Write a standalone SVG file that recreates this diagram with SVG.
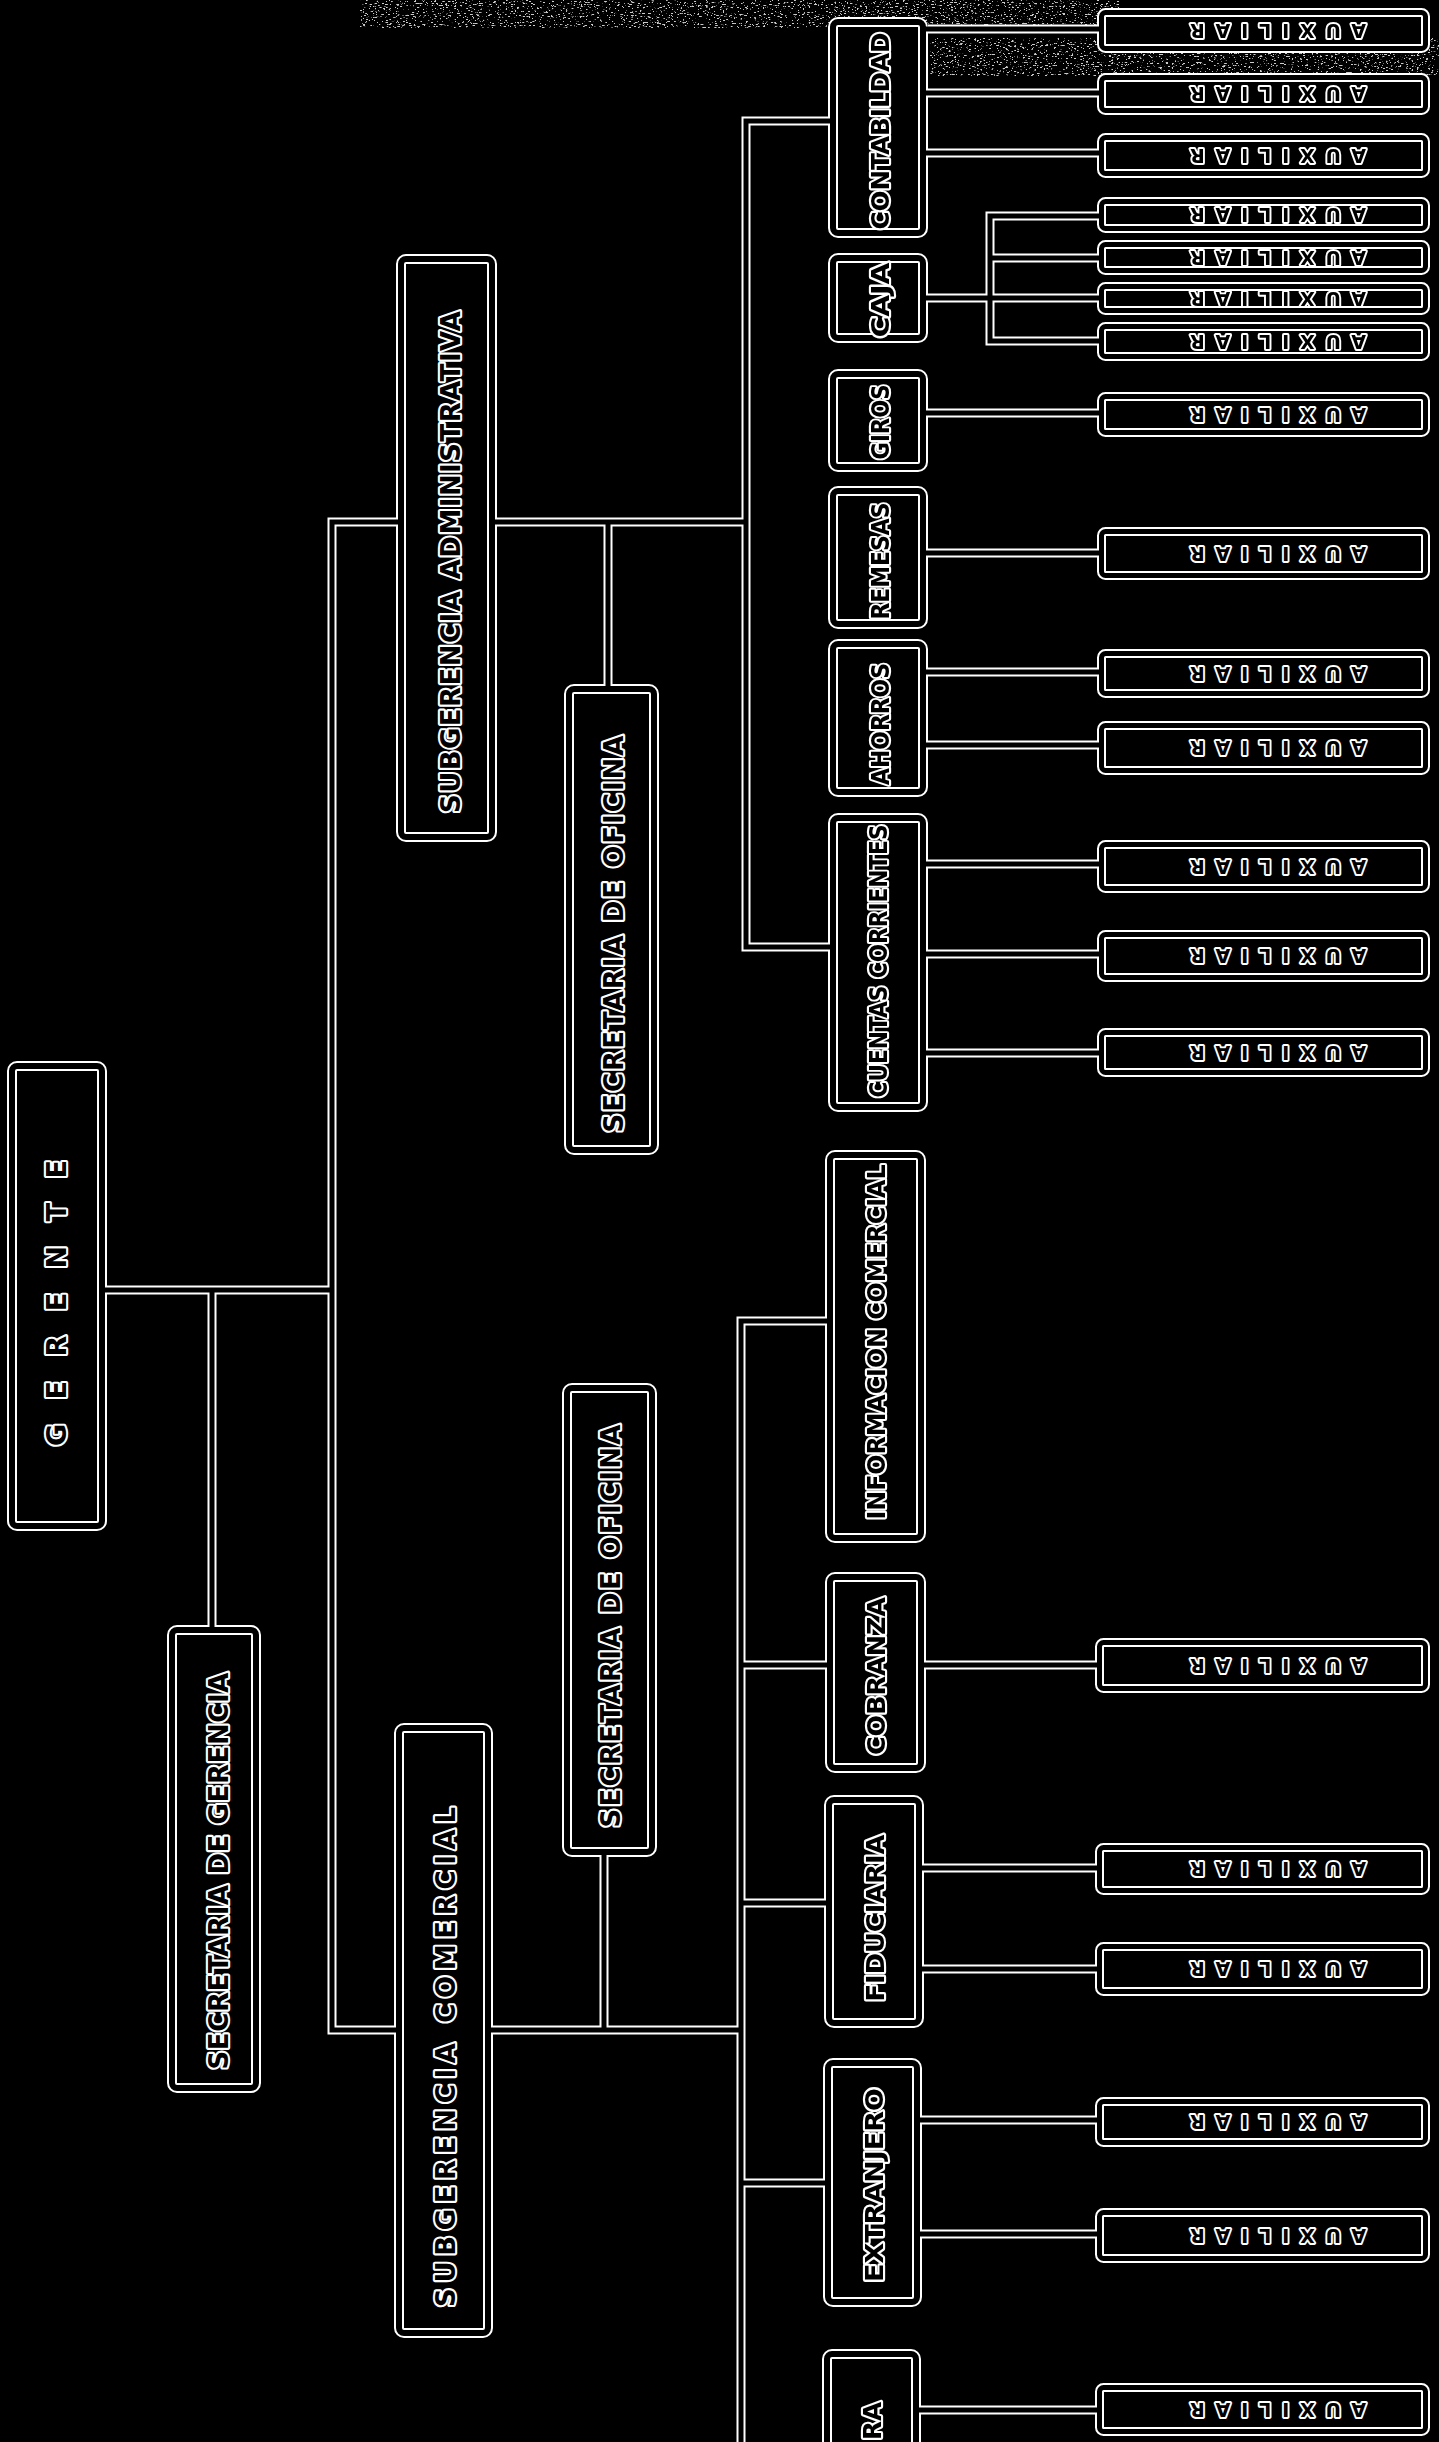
<svg xmlns="http://www.w3.org/2000/svg" width="1439" height="2442" viewBox="0 0 1439 2442">
<style>
.bo{fill:#000;stroke:#fff;stroke-width:10}
.bi{fill:none;stroke:#000;stroke-width:6}
.ao{fill:#000;stroke:#fff;stroke-width:9}
.ai{fill:none;stroke:#000;stroke-width:5}
.cw{fill:none;stroke:#fff;stroke-width:9;stroke-linejoin:miter;stroke-linecap:butt}
.ck{fill:none;stroke:#000;stroke-width:5;stroke-linejoin:miter;stroke-linecap:butt}
.t{font-family:"DejaVu Sans","Liberation Sans",sans-serif;font-weight:bold;fill:#000;stroke:#fff;stroke-width:4.2;paint-order:stroke fill;stroke-linejoin:round}
.d{font-size:24px}
.b{font-size:26px}
.x{font-size:19px;stroke-width:3.8}
</style>
<defs>
<filter id="spk" x="0" y="0" width="100%" height="100%">
<feTurbulence type="fractalNoise" baseFrequency="0.35 0.9" numOctaves="3" seed="7"/>
<feColorMatrix type="matrix" values="0 0 0 0 1 0 0 0 0 1 0 0 0 0 1 14 0 0 0 -8.6"/>
</filter>
</defs>
<rect x="0" y="0" width="1439" height="2442" fill="#000"/>
<g id="scan-noise" opacity="0.8">
<rect x="360" y="0" width="760" height="28" filter="url(#spk)"/>
<rect x="930" y="38" width="509" height="38" filter="url(#spk)"/>
</g>

<g id="n-gerencia"><rect class="bo" x="12" y="1066" width="90" height="460" rx="5"/><rect class="bi" x="12" y="1066" width="90" height="460" rx="5"/>
<text class="t" font-size="27" transform="translate(56,1446) rotate(-90)" dy="0.36em" textLength="286">GERENTE</text></g>
<g id="n-sec-gerencia"><rect class="bo" x="172" y="1630" width="84" height="458" rx="5"/><rect class="bi" x="172" y="1630" width="84" height="458" rx="5"/>
<text class="t b" transform="translate(219,1871) rotate(-90)" text-anchor="middle" dy="0.36em" textLength="397">SECRETARIA DE GERENCIA</text></g>
<g id="n-subg-admin"><rect class="bo" x="401" y="259" width="91" height="578" rx="5"/><rect class="bi" x="401" y="259" width="91" height="578" rx="5"/>
<text class="t b" transform="translate(451,562) rotate(-90)" text-anchor="middle" dy="0.36em" textLength="502">SUBGERENCIA  ADMINISTRATIVA</text></g>
<g id="n-sec-oficina-1"><rect class="bo" x="569" y="689" width="85" height="461" rx="5"/><rect class="bi" x="569" y="689" width="85" height="461" rx="5"/>
<text class="t b" transform="translate(614,934) rotate(-90)" text-anchor="middle" dy="0.36em" textLength="397">SECRETARIA DE OFICINA</text></g>
<g id="n-subg-comercial"><rect class="bo" x="399" y="1728" width="89" height="605" rx="5"/><rect class="bi" x="399" y="1728" width="89" height="605" rx="5"/>
<text class="t b" transform="translate(446,2057) rotate(-90)" text-anchor="middle" dy="0.36em" textLength="500">SUBGERENCIA   COMERCIAL</text></g>
<g id="n-sec-oficina-2"><rect class="bo" x="567" y="1388" width="85" height="464" rx="5"/><rect class="bi" x="567" y="1388" width="85" height="464" rx="5"/>
<text class="t b" transform="translate(611,1626) rotate(-90)" text-anchor="middle" dy="0.36em" textLength="403">SECRETARIA DE OFICINA</text></g>

<g id="n-contabilidad"><rect class="bo" x="833" y="22" width="90" height="211" rx="5"/><rect class="bi" x="833" y="22" width="90" height="211" rx="5"/>
<text class="t d" transform="translate(880,131) rotate(-90)" text-anchor="middle" dy="0.36em" textLength="197" lengthAdjust="spacingAndGlyphs">CONTABILDAD</text></g>
<g id="n-caja"><rect class="bo" x="833" y="258" width="90" height="80" rx="5"/><rect class="bi" x="833" y="258" width="90" height="80" rx="5"/>
<text class="t d" transform="translate(880,300) rotate(-90)" text-anchor="middle" dy="0.36em" textLength="75" lengthAdjust="spacingAndGlyphs">CAJA</text></g>
<g id="n-giros"><rect class="bo" x="833" y="374" width="90" height="93" rx="5"/><rect class="bi" x="833" y="374" width="90" height="93" rx="5"/>
<text class="t d" transform="translate(880,422) rotate(-90)" text-anchor="middle" dy="0.36em" textLength="75" lengthAdjust="spacingAndGlyphs">GIROS</text></g>
<g id="n-remesas"><rect class="bo" x="833" y="491" width="90" height="133" rx="5"/><rect class="bi" x="833" y="491" width="90" height="133" rx="5"/>
<text class="t d" transform="translate(880,561) rotate(-90)" text-anchor="middle" dy="0.36em" textLength="117" lengthAdjust="spacingAndGlyphs">REMESAS</text></g>
<g id="n-ahorros"><rect class="bo" x="833" y="644" width="90" height="148" rx="5"/><rect class="bi" x="833" y="644" width="90" height="148" rx="5"/>
<text class="t d" transform="translate(880,724) rotate(-90)" text-anchor="middle" dy="0.36em" textLength="122" lengthAdjust="spacingAndGlyphs">AHORROS</text></g>
<g id="n-cuentas-corrientes"><rect class="bo" x="833" y="818" width="90" height="289" rx="5"/><rect class="bi" x="833" y="818" width="90" height="289" rx="5"/>
<text class="t d" transform="translate(878,961) rotate(-90)" text-anchor="middle" dy="0.36em" textLength="273" lengthAdjust="spacingAndGlyphs">CUENTAS  CORRIENTES</text></g>
<g id="n-informacion"><rect class="bo" x="830" y="1155" width="91" height="383" rx="5"/><rect class="bi" x="830" y="1155" width="91" height="383" rx="5"/>
<text class="t d" transform="translate(876,1342) rotate(-90)" text-anchor="middle" dy="0.36em" textLength="355" lengthAdjust="spacingAndGlyphs">INFORMACION  COMERCIAL</text></g>
<g id="n-cobranza"><rect class="bo" x="830" y="1577" width="91" height="191" rx="5"/><rect class="bi" x="830" y="1577" width="91" height="191" rx="5"/>
<text class="t d" transform="translate(876,1676) rotate(-90)" text-anchor="middle" dy="0.36em" textLength="158" lengthAdjust="spacingAndGlyphs">COBRANZA</text></g>
<g id="n-fiduciaria"><rect class="bo" x="829" y="1800" width="90" height="223" rx="5"/><rect class="bi" x="829" y="1800" width="90" height="223" rx="5"/>
<text class="t d" transform="translate(875,1918) rotate(-90)" text-anchor="middle" dy="0.36em" textLength="167" lengthAdjust="spacingAndGlyphs">FIDUCIARIA</text></g>
<g id="n-extranjero"><rect class="bo" x="828" y="2063" width="89" height="239" rx="5"/><rect class="bi" x="828" y="2063" width="89" height="239" rx="5"/>
<text class="t d" transform="translate(874,2185) rotate(-90)" text-anchor="middle" dy="0.36em" textLength="194" lengthAdjust="spacingAndGlyphs">EXTRANJERO</text></g>
<g id="n-ra"><rect class="bo" x="827" y="2354" width="89" height="120" rx="5"/><rect class="bi" x="827" y="2354" width="89" height="120" rx="5"/>
<text class="t d" transform="translate(872,2402) rotate(-90)" text-anchor="end" dy="0.36em" textLength="38" lengthAdjust="spacingAndGlyphs">RA</text></g>

<g id="n-aux-1"><rect class="ao" x="1101.5" y="12.5" width="324" height="36" rx="4"/><rect class="ai" x="1101.5" y="12.5" width="324" height="36" rx="4"/><text class="t x" transform="translate(1366,30.5) rotate(180)" dy="0.36em" textLength="176">AUXILIAR</text></g>
<g id="n-aux-2"><rect class="ao" x="1101.5" y="77.5" width="324" height="33" rx="4"/><rect class="ai" x="1101.5" y="77.5" width="324" height="33" rx="4"/><text class="t x" transform="translate(1366,94) rotate(180)" dy="0.36em" textLength="176">AUXILIAR</text></g>
<g id="n-aux-3"><rect class="ao" x="1101.5" y="137.5" width="324" height="36" rx="4"/><rect class="ai" x="1101.5" y="137.5" width="324" height="36" rx="4"/><text class="t x" transform="translate(1366,155.5) rotate(180)" dy="0.36em" textLength="176">AUXILIAR</text></g>
<g id="n-aux-4"><rect class="ao" x="1101.5" y="201.5" width="324" height="27" rx="4"/><rect class="ai" x="1101.5" y="201.5" width="324" height="27" rx="4"/><text class="t x" transform="translate(1366,215) rotate(180)" dy="0.36em" textLength="176">AUXILIAR</text></g>
<g id="n-aux-5"><rect class="ao" x="1101.5" y="244.5" width="324" height="26" rx="4"/><rect class="ai" x="1101.5" y="244.5" width="324" height="26" rx="4"/><text class="t x" transform="translate(1366,257.5) rotate(180)" dy="0.36em" textLength="176">AUXILIAR</text></g>
<g id="n-aux-6"><rect class="ao" x="1101.5" y="286.5" width="324" height="24" rx="4"/><rect class="ai" x="1101.5" y="286.5" width="324" height="24" rx="4"/><text class="t x" transform="translate(1366,298.5) rotate(180)" dy="0.36em" textLength="176">AUXILIAR</text></g>
<g id="n-aux-7"><rect class="ao" x="1101.5" y="326.5" width="324" height="30" rx="4"/><rect class="ai" x="1101.5" y="326.5" width="324" height="30" rx="4"/><text class="t x" transform="translate(1366,341.5) rotate(180)" dy="0.36em" textLength="176">AUXILIAR</text></g>
<g id="n-aux-8"><rect class="ao" x="1101.5" y="396.5" width="324" height="36" rx="4"/><rect class="ai" x="1101.5" y="396.5" width="324" height="36" rx="4"/><text class="t x" transform="translate(1366,414.5) rotate(180)" dy="0.36em" textLength="176">AUXILIAR</text></g>
<g id="n-aux-9"><rect class="ao" x="1101.5" y="531.5" width="324" height="44" rx="4"/><rect class="ai" x="1101.5" y="531.5" width="324" height="44" rx="4"/><text class="t x" transform="translate(1366,553.5) rotate(180)" dy="0.36em" textLength="176">AUXILIAR</text></g>
<g id="n-aux-10"><rect class="ao" x="1101.5" y="653.5" width="324" height="40" rx="4"/><rect class="ai" x="1101.5" y="653.5" width="324" height="40" rx="4"/><text class="t x" transform="translate(1366,673.5) rotate(180)" dy="0.36em" textLength="176">AUXILIAR</text></g>
<g id="n-aux-11"><rect class="ao" x="1101.5" y="725.5" width="324" height="45" rx="4"/><rect class="ai" x="1101.5" y="725.5" width="324" height="45" rx="4"/><text class="t x" transform="translate(1366,748) rotate(180)" dy="0.36em" textLength="176">AUXILIAR</text></g>
<g id="n-aux-12"><rect class="ao" x="1101.5" y="844.5" width="324" height="44" rx="4"/><rect class="ai" x="1101.5" y="844.5" width="324" height="44" rx="4"/><text class="t x" transform="translate(1366,866.5) rotate(180)" dy="0.36em" textLength="176">AUXILIAR</text></g>
<g id="n-aux-13"><rect class="ao" x="1101.5" y="934.5" width="324" height="43" rx="4"/><rect class="ai" x="1101.5" y="934.5" width="324" height="43" rx="4"/><text class="t x" transform="translate(1366,956) rotate(180)" dy="0.36em" textLength="176">AUXILIAR</text></g>
<g id="n-aux-14"><rect class="ao" x="1101.5" y="1032.5" width="324" height="40" rx="4"/><rect class="ai" x="1101.5" y="1032.5" width="324" height="40" rx="4"/><text class="t x" transform="translate(1366,1052.5) rotate(180)" dy="0.36em" textLength="176">AUXILIAR</text></g>
<g id="n-aux-15"><rect class="ao" x="1099.5" y="1642.5" width="326" height="46" rx="4"/><rect class="ai" x="1099.5" y="1642.5" width="326" height="46" rx="4"/><text class="t x" transform="translate(1366,1665.5) rotate(180)" dy="0.36em" textLength="176">AUXILIAR</text></g>
<g id="n-aux-16"><rect class="ao" x="1099.5" y="1847.5" width="326" height="43" rx="4"/><rect class="ai" x="1099.5" y="1847.5" width="326" height="43" rx="4"/><text class="t x" transform="translate(1366,1869) rotate(180)" dy="0.36em" textLength="176">AUXILIAR</text></g>
<g id="n-aux-17"><rect class="ao" x="1099.5" y="1946.5" width="326" height="45" rx="4"/><rect class="ai" x="1099.5" y="1946.5" width="326" height="45" rx="4"/><text class="t x" transform="translate(1366,1969) rotate(180)" dy="0.36em" textLength="176">AUXILIAR</text></g>
<g id="n-aux-18"><rect class="ao" x="1099.5" y="2101.5" width="326" height="41" rx="4"/><rect class="ai" x="1099.5" y="2101.5" width="326" height="41" rx="4"/><text class="t x" transform="translate(1366,2122) rotate(180)" dy="0.36em" textLength="176">AUXILIAR</text></g>
<g id="n-aux-19"><rect class="ao" x="1099.5" y="2212.5" width="326" height="46" rx="4"/><rect class="ai" x="1099.5" y="2212.5" width="326" height="46" rx="4"/><text class="t x" transform="translate(1366,2235.5) rotate(180)" dy="0.36em" textLength="176">AUXILIAR</text></g>
<g id="n-aux-20"><rect class="ao" x="1099.5" y="2387.5" width="326" height="44" rx="4"/><rect class="ai" x="1099.5" y="2387.5" width="326" height="44" rx="4"/><text class="t x" transform="translate(1366,2409.5) rotate(180)" dy="0.36em" textLength="176">AUXILIAR</text></g>

<g id="connectors">
<g class="cw">
<path d="M396,522 H332 V2030 H394"/>
<path d="M497,522 H746"/>
<path d="M828,121 H746 V947 H828"/>
<path d="M608,522 V684"/>
<path d="M107,1290 H332"/>
<path d="M212,1290 V1625"/>
<path d="M493,2030 H741"/>
<path d="M604,2030 V1857"/>
<path d="M741,2450 V1321 H825"/>
<path d="M741,1665 H825"/>
<path d="M741,1903 H824"/>
<path d="M741,2183 H823"/>
<path d="M928,29 H1097 M928,93 H1097 M928,153 H1097"/>
<path d="M928,298 H1097"/>
<path d="M1097,216 H990 V341 H1097 M990,258 H1097"/>
<path d="M928,413 H1097 M928,553 H1097 M928,672 H1097 M928,745 H1097"/>
<path d="M928,864 H1097 M928,954 H1097 M928,1053 H1097"/>
<path d="M926,1665 H1095 M924,1868 H1095 M924,1969 H1095"/>
<path d="M922,2120 H1095 M922,2234 H1095 M921,2410 H1095"/>
</g>
<g class="ck">
<path d="M399,522 H332 V2030 H397"/>
<path d="M494,522 H746"/>
<path d="M831,121 H746 V947 H831"/>
<path d="M608,522 V687"/>
<path d="M104,1290 H332"/>
<path d="M212,1290 V1628"/>
<path d="M490,2030 H741"/>
<path d="M604,2030 V1854"/>
<path d="M741,2450 V1321 H828"/>
<path d="M741,1665 H828"/>
<path d="M741,1903 H827"/>
<path d="M741,2183 H826"/>
<path d="M925,29 H1100 M925,93 H1100 M925,153 H1100"/>
<path d="M925,298 H1100"/>
<path d="M1100,216 H990 V341 H1100 M990,258 H1100"/>
<path d="M925,413 H1100 M925,553 H1100 M925,672 H1100 M925,745 H1100"/>
<path d="M925,864 H1100 M925,954 H1100 M925,1053 H1100"/>
<path d="M923,1665 H1098 M921,1868 H1098 M921,1969 H1098"/>
<path d="M919,2120 H1098 M919,2234 H1098 M918,2410 H1098"/>
</g>
</g>
</svg>
